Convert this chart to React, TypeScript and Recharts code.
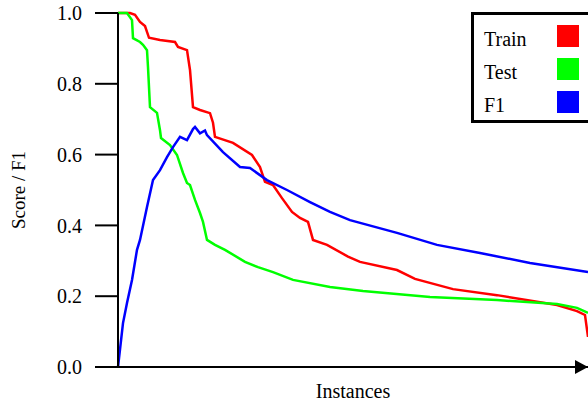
import { Legend, Line, LineChart, XAxis, YAxis } from "recharts";

const seriesNames = ["Train", "Test", "F1"];

const trainX = [0, 12, 17, 22, 27, 31, 42, 57, 60, 69, 72, 75, 82, 92, 95, 97, 115, 134, 142, 147, 155, 164, 174, 182, 190, 195, 209, 230, 242, 279, 297, 335, 379, 439, 459, 467, 470];
const trainY = [1.0, 1.0, 0.995, 0.975, 0.963, 0.93, 0.924, 0.918, 0.904, 0.895, 0.839, 0.734, 0.726, 0.717, 0.69, 0.65, 0.633, 0.599, 0.565, 0.523, 0.514, 0.477, 0.438, 0.421, 0.41, 0.359, 0.345, 0.312, 0.297, 0.274, 0.249, 0.22, 0.203, 0.175, 0.158, 0.147, 0.085];

const testX = [0, 9, 14, 15, 22, 25, 29, 30, 32, 39, 42, 43, 52, 59, 65, 69, 72, 77, 82, 85, 89, 97, 107, 127, 140, 155, 175, 212, 245, 312, 379, 439, 459, 470];
const testY = [1.0, 1.0, 0.98, 0.929, 0.918, 0.91, 0.895, 0.847, 0.734, 0.718, 0.669, 0.647, 0.627, 0.599, 0.548, 0.52, 0.514, 0.472, 0.435, 0.41, 0.359, 0.345, 0.331, 0.297, 0.282, 0.268, 0.246, 0.226, 0.215, 0.198, 0.189, 0.178, 0.167, 0.153];

const f1X = [0, 5, 9, 14, 19, 22, 29, 35, 42, 49, 55, 62, 69, 75, 77, 82, 87, 89, 105, 122, 132, 149, 169, 192, 212, 232, 279, 319, 362, 412, 470];
const f1Y = [0, 0.124, 0.181, 0.246, 0.331, 0.359, 0.452, 0.528, 0.556, 0.593, 0.621, 0.65, 0.641, 0.672, 0.678, 0.66, 0.668, 0.655, 0.607, 0.565, 0.562, 0.528, 0.5, 0.466, 0.438, 0.415, 0.379, 0.345, 0.322, 0.294, 0.268];

const yTicks = [0, 0.2, 0.4, 0.6, 0.8, 1.0];

const toRows = (xs: number[], ys: number[]) => xs.map((x, i) => ({ x, v: ys[i] }));

const font = "Liberation Serif, DejaVu Serif, serif";

function LegendBox({ payload }: any) {
  const items = [...(payload || [])].sort(
    (a: any, b: any) => seriesNames.indexOf(a.value) - seriesNames.indexOf(b.value)
  );
  return (
    <div
      style={{
        border: "3px solid black",
        background: "white",
        width: 130,
        padding: "4px 0 2px 10px",
        fontFamily: font,
        fontSize: 20,
        color: "black",
      }}
    >
      {items.map((p: any) => (
        <div key={p.value} style={{ display: "flex", alignItems: "center", height: 33 }}>
          <span style={{ width: 73, position: "relative", top: 4 }}>{p.value}</span>
          <span style={{ width: 22, height: 22, background: p.color, display: "inline-block" }} />
        </div>
      ))}
    </div>
  );
}

export default function App() {
  return (
    <div style={{ position: "absolute", left: 0, top: 0, fontFamily: font }}>
      <LineChart width={588} height={404} margin={{ top: 13, right: 0, left: 0, bottom: 0 }}>
        <defs>
          <marker id="axisArrow" markerWidth="14" markerHeight="14" refX="13" refY="7" orient="auto" markerUnits="userSpaceOnUse">
            <path d="M0,0 L13,7 L0,14 Z" fill="black" />
          </marker>
        </defs>
        <XAxis
          type="number"
          dataKey="x"
          domain={[0, 470]}
          allowDuplicatedCategory={false}
          height={37}
          tick={false}
          tickLine={false}
          axisLine={{ stroke: "black", strokeWidth: 2, markerEnd: "url(#axisArrow)" }}
          label={{ value: "Instances", position: "insideBottom", offset: 6, fill: "black", fontSize: 20, fontFamily: font }}
        />
        <YAxis
          type="number"
          domain={[0, 1]}
          ticks={yTicks}
          width={118}
          tickSize={23}
          tickMargin={13}
          tickFormatter={(v: number) => v.toFixed(1)}
          tick={{ fill: "black", fontSize: 20, fontFamily: font }}
          tickLine={{ stroke: "black", strokeWidth: 2 }}
          axisLine={{ stroke: "black", strokeWidth: 2 }}
          label={{ value: "Score / F1", angle: -90, position: "insideLeft", offset: 18, fill: "black", fontSize: 19, fontFamily: font, style: { textAnchor: "middle" } }}
        />
        <Legend
          layout="horizontal"
          align="center"
          verticalAlign="middle"
          content={<LegendBox />}
          wrapperStyle={{ left: 471, top: 12, width: 140 }}
        />
        <Line data={toRows(trainX, trainY)} dataKey="v" name="Train" type="linear" stroke="#ff0000" strokeWidth={2.5} dot={false} isAnimationActive={false} />
        <Line data={toRows(testX, testY)} dataKey="v" name="Test" type="linear" stroke="#00ff00" strokeWidth={2.5} dot={false} isAnimationActive={false} />
        <Line data={toRows(f1X, f1Y)} dataKey="v" name="F1" type="linear" stroke="#0000ff" strokeWidth={2.5} dot={false} isAnimationActive={false} />
      </LineChart>
    </div>
  );
}
